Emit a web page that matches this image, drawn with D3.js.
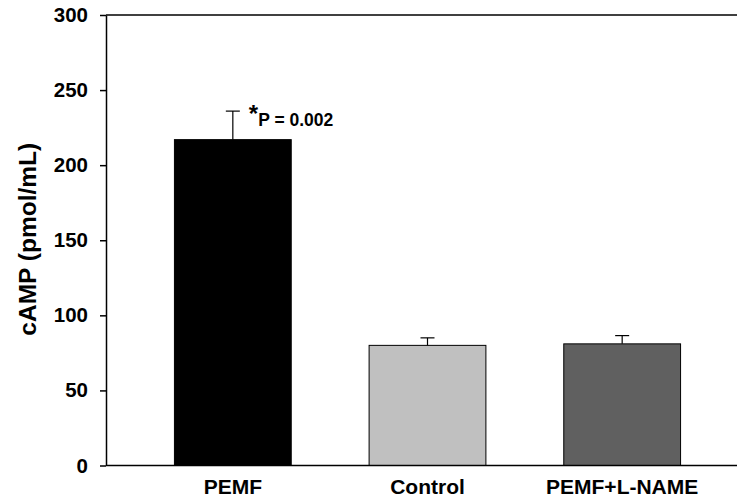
<!DOCTYPE html>
<html>
<head>
<meta charset="utf-8">
<script src="https://cdn.jsdelivr.net/npm/d3@7"></script>
<style>
  body { margin: 0; background: #fff; }
  svg text { font-family: "Liberation Sans", Arial, sans-serif; font-weight: bold; fill: #000; }
</style>
</head>
<body>
<div id="chart"></div>
<script>
// chart values
const groups = ["PEMF", "Control", "PEMF+L-NAME"];
const means = [217, 80, 81];
const errors = [19, 5, 5.5];
const fills = ["#000000", "#c0c0c0", "#606060"];
const yTicks = [0, 50, 100, 150, 200, 250, 300];

const width = 737, height = 497;
const margin = {top: 15, right: 0, bottom: 31.5, left: 106};

const svg = d3.select("#chart").append("svg")
    .attr("width", width)
    .attr("height", height);

// bands: first bar ~174-292, last ~563-680
const x = d3.scaleBand()
    .domain(groups)
    .range([135.5, 719.5])
    .paddingInner(0.4)
    .paddingOuter(0.2);

const y = d3.scaleLinear()
    .domain([0, 300])
    .range([height - margin.bottom, margin.top]);

// bars
svg.selectAll(".bar")
    .data(groups)
    .enter().append("rect")
    .attr("class", "bar")
    .attr("x", d => x(d))
    .attr("width", x.bandwidth())
    .attr("y", (d, i) => y(means[i]))
    .attr("height", (d, i) => y(0) - y(means[i]))
    .attr("fill", (d, i) => fills[i])
    .attr("stroke", "#000")
    .attr("stroke-width", 1);

// error bars (upper only)
const err = svg.selectAll(".err")
    .data(groups)
    .enter().append("g")
    .attr("class", "err")
    .attr("stroke", "#000")
    .attr("stroke-width", 1.2);

err.append("line")
    .attr("x1", d => x(d) + x.bandwidth() / 2)
    .attr("x2", d => x(d) + x.bandwidth() / 2)
    .attr("y1", (d, i) => y(means[i]))
    .attr("y2", (d, i) => y(means[i] + errors[i]));

err.append("line")
    .attr("x1", d => x(d) + x.bandwidth() / 2 - 7)
    .attr("x2", d => x(d) + x.bandwidth() / 2 + 7)
    .attr("y1", (d, i) => y(means[i] + errors[i]))
    .attr("y2", (d, i) => y(means[i] + errors[i]));

// y axis
const yAxis = svg.append("g")
    .attr("transform", `translate(${margin.left},0)`)
    .call(d3.axisLeft(y).tickValues(yTicks).tickSize(6).tickPadding(12).tickSizeOuter(0));
yAxis.select(".domain").attr("stroke-width", 1.5);
yAxis.selectAll(".tick line").attr("stroke-width", 1.5);
yAxis.selectAll("text").attr("font-size", 20.5).attr("font-family", null);

// bottom and top frame lines
svg.append("line")
    .attr("x1", margin.left).attr("x2", width)
    .attr("y1", y(0)).attr("y2", y(0))
    .attr("stroke", "#000").attr("stroke-width", 1.5);
svg.append("line")
    .attr("x1", margin.left).attr("x2", width)
    .attr("y1", y(300)).attr("y2", y(300))
    .attr("stroke", "#000").attr("stroke-width", 1.5);

// x labels
svg.selectAll(".xlab")
    .data(groups)
    .enter().append("text")
    .attr("class", "xlab")
    .attr("x", d => x(d) + x.bandwidth() / 2)
    .attr("y", 494)
    .attr("text-anchor", "middle")
    .attr("font-size", 21)
    .text(d => d);

// y title
svg.append("text")
    .attr("transform", `translate(36,${y(150) - 1}) rotate(-90)`)
    .attr("text-anchor", "middle")
    .attr("font-size", 24.5)
    .text("cAMP (pmol/mL)");

// significance note
const note = svg.append("text")
    .attr("x", x("PEMF") + x.bandwidth() / 2 + 16)
    .attr("y", 126);
note.append("tspan").attr("font-size", 24).attr("dy", -4).text("*");
note.append("tspan").attr("font-size", 17.5).attr("dy", 4).text("P = 0.002");
</script>
</body>
</html>
